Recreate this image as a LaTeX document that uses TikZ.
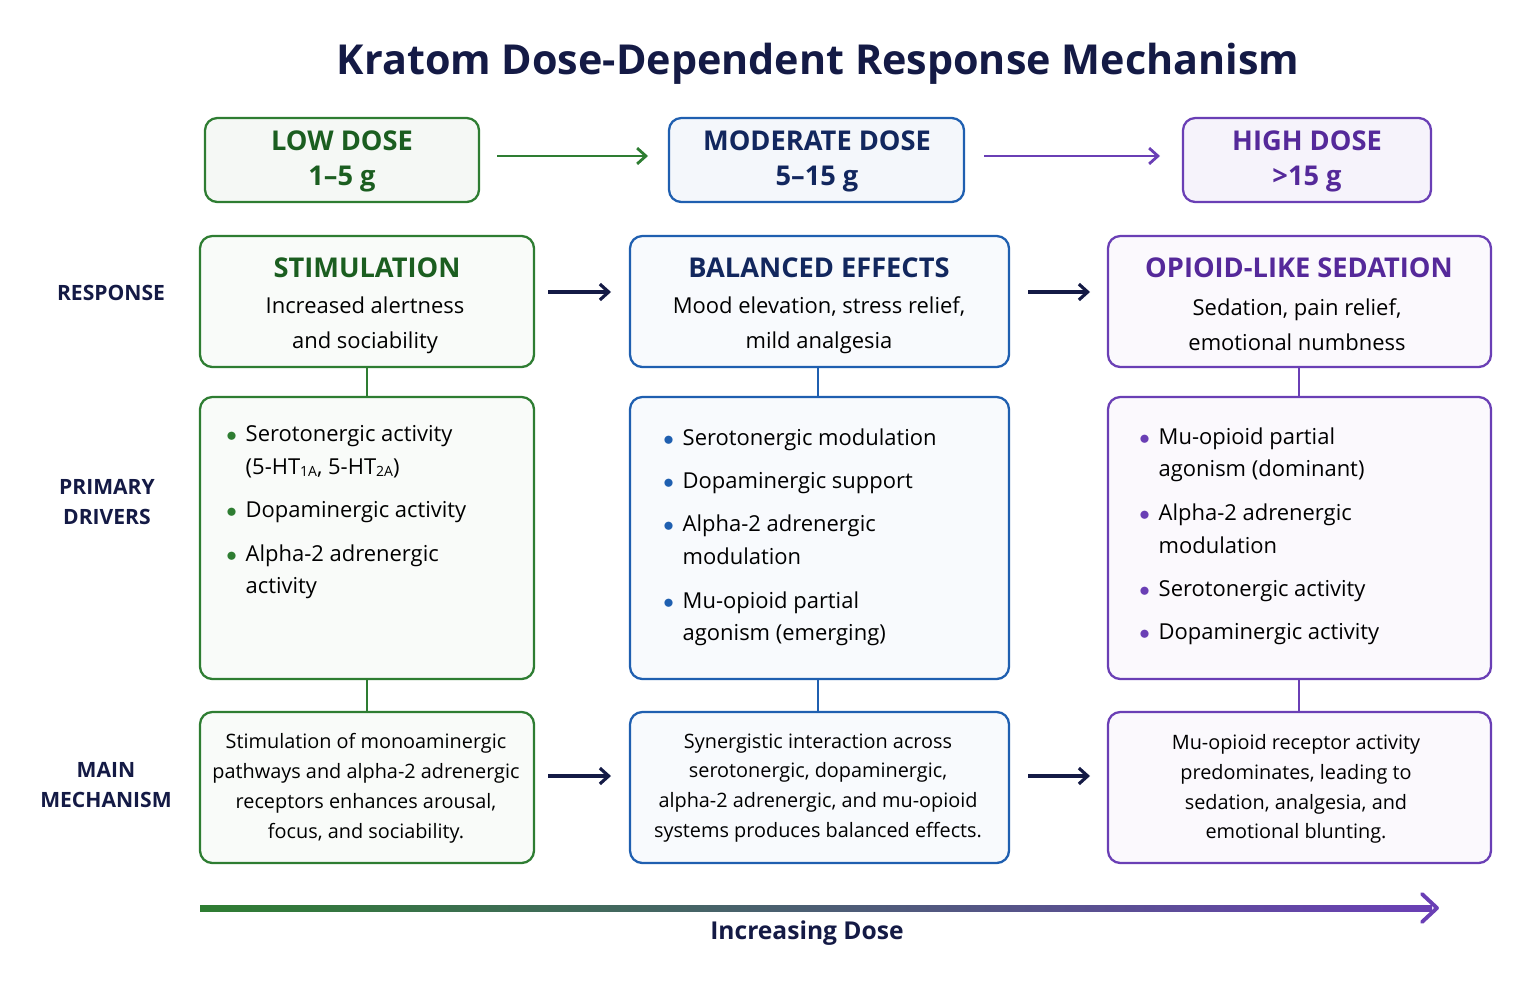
\documentclass[tikz,border=0pt]{standalone}
\usepackage{fontspec}
\setmainfont{Open Sans}
\usepackage{enumitem}
\usetikzlibrary{arrows.meta}
\definecolor{grn}{HTML}{2E7D32}
\definecolor{grnT}{HTML}{1B5E20}
\definecolor{blu}{HTML}{1F5FB0}
\definecolor{bluT}{HTML}{12275E}
\definecolor{prp}{HTML}{6A3FB5}
\definecolor{prpT}{HTML}{55299A}
\definecolor{navy}{HTML}{141A45}
\newcommand{\sbs}[1]{\raisebox{-0.2ex}{\footnotesize #1}}
\newcommand{\drvlist}[3]{\begin{minipage}{#1}\begin{itemize}[leftmargin=15pt,label={\color{#2}\large$\bullet$},itemsep=6pt,topsep=0pt,parsep=0pt,partopsep=0pt]#3\end{itemize}\end{minipage}}

\begin{document}
\begin{tikzpicture}[x=0.02cm,y=-0.02cm,
    box/.style={draw, line width=1.3pt, rounded corners=7pt},
    head/.style={font=\fontsize{15.5}{20}\selectfont\bfseries},
    body/.style={font=\fontsize{12.5}{20}\selectfont, text=black, align=center},
    mech/.style={font=\fontsize{11.3}{17}\selectfont, text=black, align=center},
    rowlbl/.style={font=\fontsize{12}{17}\selectfont\bfseries, text=navy, align=center},
    nextarr/.style={-{Straight Barb[length=5pt,width=9pt]}, line width=1.8pt, navy}]
    \useasboundingbox (0,0) rectangle (1535,994);

    \node[font=\fontsize{23.5}{28}\selectfont\bfseries, text=navy] (title) at (818,64) {Kratom Dose-Dependent Response Mechanism};

    % dose boxes
    \draw[box, grn, fill=grn!5] (205,118) rectangle (479,202);
    \node[head, text=grnT, align=center] (low) at (342,161) {LOW DOSE\\1--5 g};
    \draw[box, blu, fill=blu!5] (669,118) rectangle (964,202);
    \node[head, text=bluT, align=center] (mod) at (817,161) {MODERATE DOSE\\5--15 g};
    \draw[box, prp, fill=prp!6] (1183,118) rectangle (1431,202);
    \node[head, text=prpT, align=center] (high) at (1307,161) {HIGH DOSE\\>15 g};
    \coordinate (g1) at (497,156); \coordinate (g2) at (648,156);
    \coordinate (p1) at (984,156); \coordinate (p2) at (1160,156);
    \draw[-{Straight Barb[length=5pt,width=9pt]}, line width=1.6pt, grn] (g1) -- (g2);
    \draw[-{Straight Barb[length=5pt,width=9pt]}, line width=1.6pt, prp] (p1) -- (p2);

    % row labels
    \node[rowlbl] (lresp) at (111,293) {RESPONSE};
    \node[rowlbl] (ldrv) at (107,502) {PRIMARY\\DRIVERS};
    \node[rowlbl] (lmech) at (106,785) {MAIN\\MECHANISM};

    % response row
    \draw[box, grn, fill=grn!3] (200,236) rectangle (534,367);
    \draw[box, blu, fill=blu!3] (630,236) rectangle (1009,367);
    \draw[box, prp, fill=prp!3] (1108,236) rectangle (1491,367);
    \node[head, text=grnT] (s1) at (367,268) {STIMULATION};
    \node[body] (r1) at (365,325) {Increased alertness\\and sociability};
    \node[head, text=bluT] (s2) at (819,268) {BALANCED EFFECTS};
    \node[body] (r2) at (819,325) {Mood elevation, stress relief,\\mild analgesia};
    \node[head, text=prpT] (s3) at (1299,268) {OPIOID-LIKE SEDATION};
    \node[body] (r3) at (1297,325) {Sedation, pain relief,\\emotional numbness};

    % drivers row
    \draw[box, grn, fill=grn!3] (200,397) rectangle (534,679);
    \draw[box, blu, fill=blu!3] (630,397) rectangle (1009,679);
    \draw[box, prp, fill=prp!3] (1108,397) rectangle (1491,679);
    \node[anchor=north west, inner sep=0, font=\fontsize{12.5}{18.7}\selectfont] (d1) at (219,425)
      {\drvlist{290pt}{grn}{\item Serotonergic activity\\(5-HT\sbs{1A}, 5-HT\sbs{2A})
       \item Dopaminergic activity
       \item Alpha-2 adrenergic\\activity}};
    \node[anchor=north west, inner sep=0, font=\fontsize{12.5}{18.7}\selectfont] (d2) at (656,428)
      {\drvlist{300pt}{blu}{\item Serotonergic modulation
       \item Dopaminergic support
       \item Alpha-2 adrenergic\\modulation
       \item Mu-opioid partial\\agonism (emerging)}};
    \node[anchor=north west, inner sep=0, font=\fontsize{12.5}{18.7}\selectfont] (d3) at (1132,427)
      {\drvlist{300pt}{prp}{\item Mu-opioid partial\\agonism (dominant)
       \item Alpha-2 adrenergic\\modulation
       \item Serotonergic activity
       \item Dopaminergic activity}};

    % mechanism row
    \draw[box, grn, fill=grn!3] (200,712) rectangle (534,863);
    \draw[box, blu, fill=blu!3] (630,712) rectangle (1009,863);
    \draw[box, prp, fill=prp!3] (1108,712) rectangle (1491,863);
    \node[mech] (m1) at (366,788) {Stimulation of monoaminergic\\pathways and alpha-2 adrenergic\\receptors enhances arousal,\\focus, and sociability.};
    \node[mech] (m2) at (818,788) {Synergistic interaction across\\serotonergic, dopaminergic,\\alpha-2 adrenergic, and mu-opioid\\systems produces balanced effects.};
    \node[mech] (m3) at (1296,789) {Mu-opioid receptor activity\\predominates, leading to\\sedation, analgesia, and\\emotional blunting.};

    % vertical links
    \foreach \x/\c in {367/grn,818/blu,1299/prp}{
      \draw[line width=1.3pt, \c] (\x,367) -- (\x,397);
      \draw[line width=1.3pt, \c] (\x,679) -- (\x,712);
    }

    % step arrows
    \foreach \y in {292,776}{
      \draw[nextarr] (548,\y) -- (611,\y);
      \draw[nextarr] (1028,\y) -- (1090,\y);
    }

    % dose axis
    \shade[left color=grn, middle color=blu, right color=prp] (200,905) rectangle (1432,911);
    \coordinate (ax) at (1437,908);
    \draw[prp, line width=2.2pt, line cap=round, line join=round] (1422,894) -- (ax) -- (1422,922);
    \node[font=\fontsize{14}{17}\selectfont\bfseries, text=navy] (axl) at (807,933) {Increasing Dose};
\end{tikzpicture}
\end{document}
